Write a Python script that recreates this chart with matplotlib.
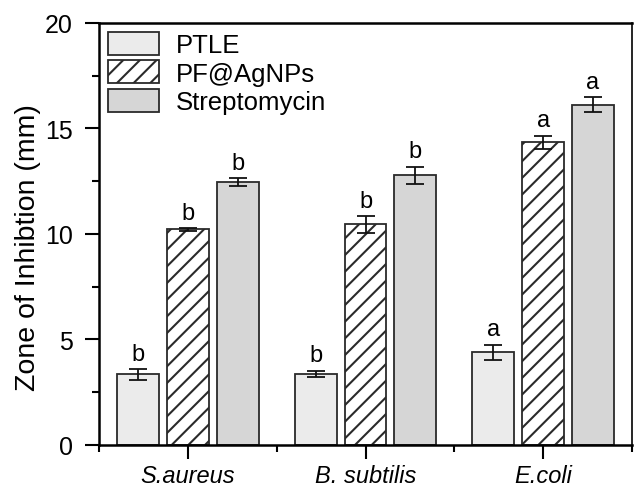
import numpy as np
import matplotlib.pyplot as plt
from matplotlib.ticker import MultipleLocator, FixedLocator

plt.rcParams['font.family'] = ['Liberation Sans', 'DejaVu Sans']
plt.rcParams['hatch.linewidth'] = 1.5

groups = ['S.aureus', 'B. subtilis', 'E.coli']
series = ['PTLE', 'PF@AgNPs', 'Streptomycin']
ptle = [3.34, 3.37, 4.40]
ptle_err = [0.24, 0.15, 0.36]
agnp = [10.22, 10.45, 14.35]
agnp_err = [0.07, 0.40, 0.31]
strep = [12.45, 12.79, 16.12]
strep_err = [0.20, 0.40, 0.35]
letters = [['b', 'b', 'a'], ['b', 'b', 'a'], ['b', 'b', 'a']]

fig = plt.figure(figsize=(6.34, 4.89), dpi=100)
ax = fig.add_axes([0.156, 0.088, 0.841, 0.863])

x = np.arange(1, len(groups) + 1)
width = 0.236
step = 0.28
styles = [
    dict(facecolor='#ebebeb', hatch=None),
    dict(facecolor='white', hatch='//'),
    dict(facecolor='#d6d6d6', hatch=None),
]
vals = [ptle, agnp, strep]
errs = [ptle_err, agnp_err, strep_err]

for i, (name, v, e, st) in enumerate(zip(series, vals, errs, styles)):
    xi = x + (i - 1) * step
    ax.bar(xi, v, width, label=name, facecolor=st['facecolor'], hatch=st['hatch'],
           edgecolor='#2a2a2a', linewidth=1.3, zorder=2)
    ax.errorbar(xi, v, yerr=e, fmt='none', ecolor='#111111', elinewidth=1.3,
                capsize=6.5, capthick=1.3, zorder=3)
    for xx, vv, ee, lab in zip(xi, v, e, letters[i]):
        ax.text(xx, vv + ee + 0.2, lab, ha='center', va='bottom', fontsize=17)

ax.set_xlim(0.5, 3.5)
ax.set_ylim(0, 20)
ax.set_xticks(x)
ax.set_xticklabels(groups, fontsize=17, style='italic')
ax.xaxis.set_minor_locator(FixedLocator([0.5, 1.5, 2.5, 3.5]))
ax.yaxis.set_major_locator(MultipleLocator(5))
ax.yaxis.set_minor_locator(MultipleLocator(2.5))
ax.tick_params(axis='both', which='major', direction='out', length=10, width=1.5, labelsize=18, pad=9)
ax.tick_params(axis='both', which='minor', direction='out', length=5, width=1.5)
ax.tick_params(axis='x', which='major', labelsize=17, pad=4)
ax.set_ylabel('Zone of Inhibtion (mm)', fontsize=20.5)
ax.yaxis.set_label_coords(-0.108, 0.47)

for s in ['left', 'bottom', 'top']:
    ax.spines[s].set_linewidth(1.8)
ax.spines['right'].set_linewidth(1.2)

ax.legend(loc='upper left', frameon=False, fontsize=18.5, handlelength=2.0, handleheight=1.0,
          labelspacing=0.12, borderaxespad=0.0, borderpad=0.35, handletextpad=0.66)

fig.savefig('out.png', dpi=100)
